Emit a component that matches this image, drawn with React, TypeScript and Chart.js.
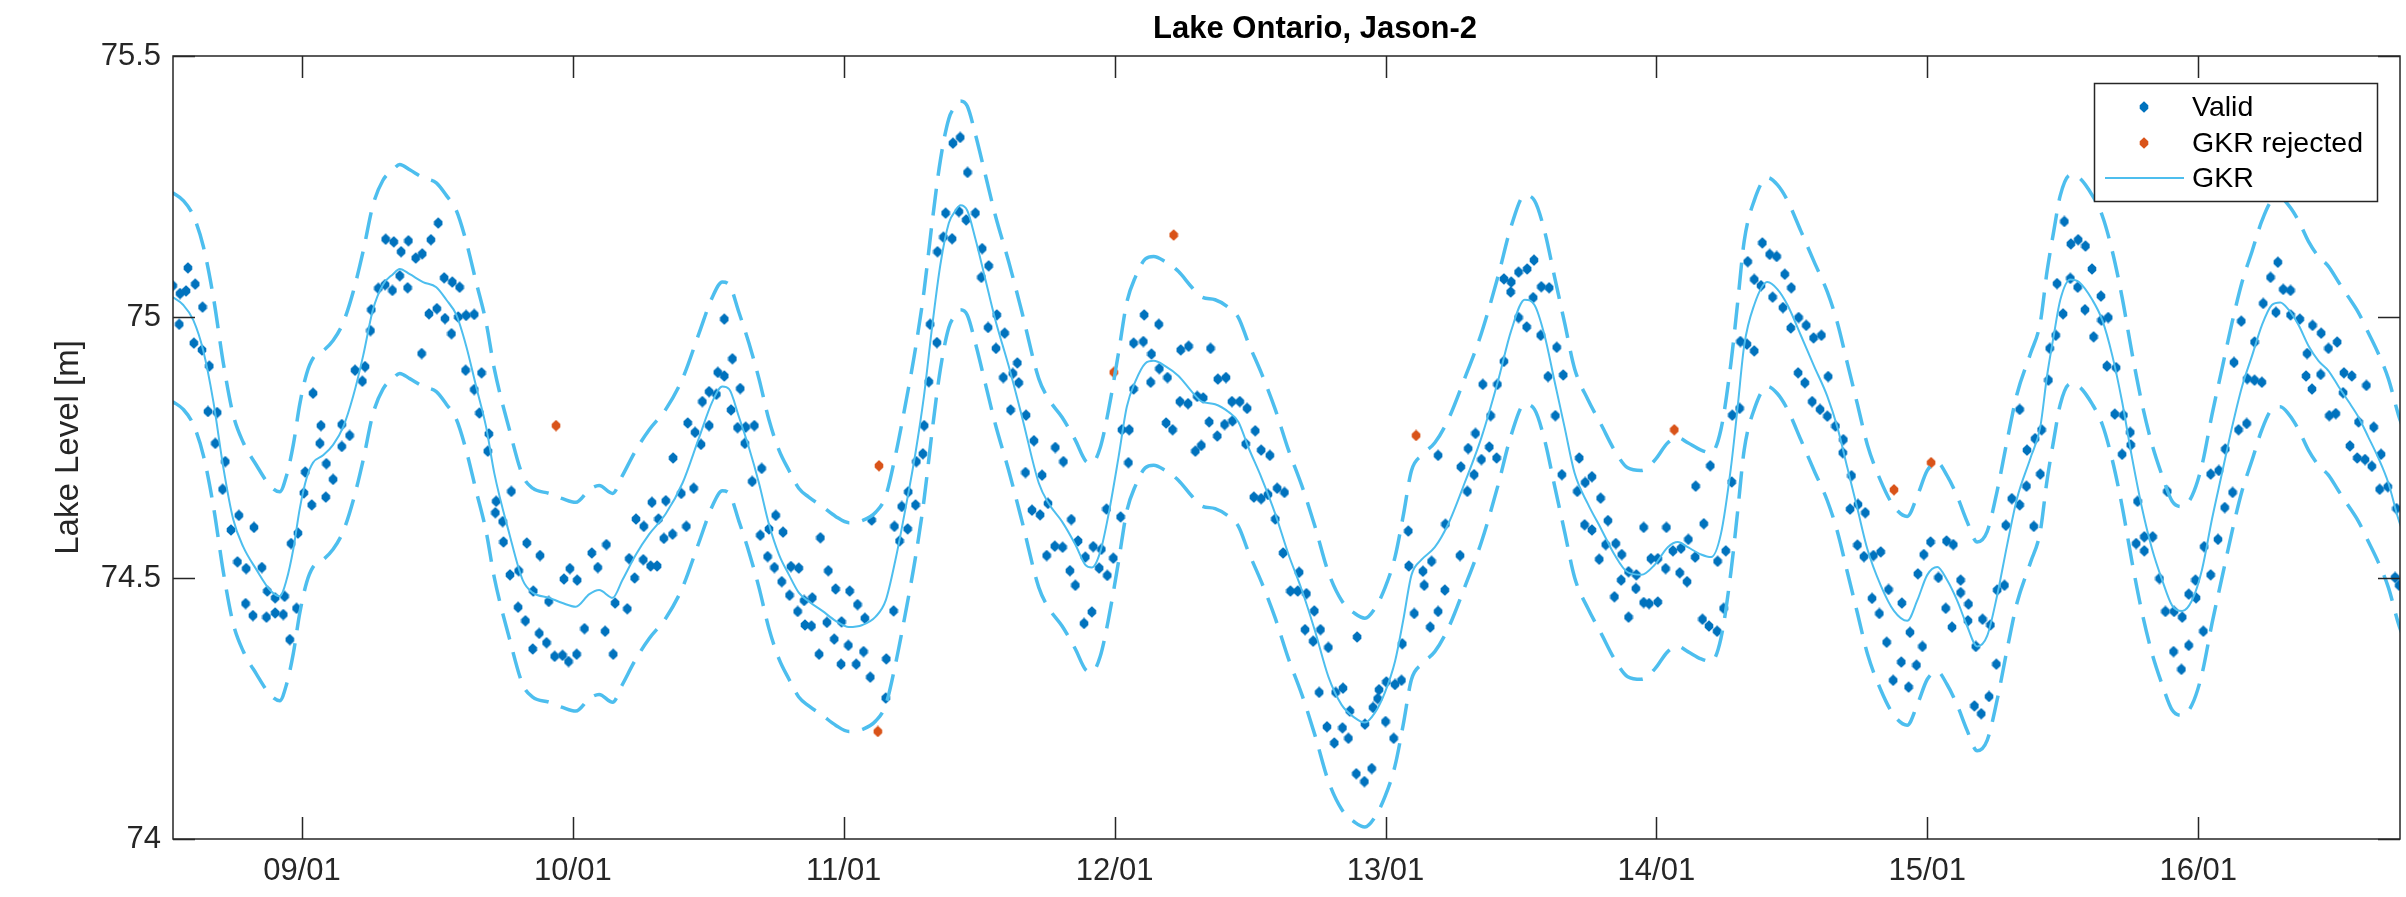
import { useEffect, useRef } from 'react';
import { Chart, registerables } from 'chart.js';

Chart.register(...registerables);

// ---------- axis data ----------
const xMinYear = 2008.524;
const xMaxYear = 2016.745;
const xTickYears = [2009, 2010, 2011, 2012, 2013, 2014, 2015, 2016];
const xTickLabels = ['09/01', '10/01', '11/01', '12/01', '13/01', '14/01', '15/01', '16/01'];
const yTickValues = [74, 74.5, 75, 75.5];
const yTickLabels = ['74', '74.5', '75', '75.5'];

// ---------- GKR fit (decimal year) ----------
const gkrYear = [
  2008.523, 2008.562, 2008.599, 2008.636, 2008.673, 2008.710, 2008.746, 2008.783, 2008.832, 2008.882,
  2008.918, 2008.943, 2008.968, 2008.992, 2009.017, 2009.041, 2009.078, 2009.115, 2009.152, 2009.189,
  2009.226, 2009.262, 2009.299, 2009.336, 2009.361, 2009.398, 2009.447, 2009.496, 2009.533, 2009.570,
  2009.606, 2009.643, 2009.680, 2009.710, 2009.766, 2009.815, 2009.852, 2009.913, 2009.962, 2010.011,
  2010.061, 2010.097, 2010.147, 2010.183, 2010.233, 2010.282, 2010.343, 2010.405, 2010.466, 2010.515,
  2010.552, 2010.577, 2010.613, 2010.650, 2010.687, 2010.724, 2010.761, 2010.798, 2010.834, 2010.871,
  2010.921, 2010.970, 2011.019, 2011.069, 2011.118, 2011.155, 2011.191, 2011.228, 2011.265, 2011.296,
  2011.327, 2011.357, 2011.388, 2011.413, 2011.431, 2011.456, 2011.486, 2011.523, 2011.560, 2011.609,
  2011.658, 2011.720, 2011.756, 2011.806, 2011.855, 2011.892, 2011.916, 2011.947, 2011.978, 2012.014,
  2012.045, 2012.077, 2012.113, 2012.144, 2012.187, 2012.236, 2012.285, 2012.322, 2012.371, 2012.421,
  2012.457, 2012.494, 2012.543, 2012.593, 2012.642, 2012.691, 2012.740, 2012.789, 2012.838, 2012.887,
  2012.924, 2012.961, 2012.998, 2013.035, 2013.065, 2013.096, 2013.133, 2013.182, 2013.231, 2013.292,
  2013.354, 2013.415, 2013.464, 2013.514, 2013.550, 2013.587, 2013.624, 2013.661, 2013.698, 2013.747,
  2013.796, 2013.845, 2013.894, 2013.944, 2013.993, 2014.042, 2014.079, 2014.116, 2014.165, 2014.202,
  2014.238, 2014.275, 2014.300, 2014.324, 2014.361, 2014.410, 2014.447, 2014.484, 2014.533, 2014.582,
  2014.631, 2014.668, 2014.705, 2014.742, 2014.779, 2014.828, 2014.877, 2014.926, 2014.963, 2015.000,
  2015.037, 2015.073, 2015.110, 2015.147, 2015.184, 2015.221, 2015.258, 2015.295, 2015.331, 2015.381,
  2015.417, 2015.442, 2015.467, 2015.491, 2015.528, 2015.560, 2015.609, 2015.646, 2015.683, 2015.719,
  2015.756, 2015.793, 2015.830, 2015.867, 2015.904, 2015.941, 2015.977, 2016.014, 2016.051, 2016.088,
  2016.125, 2016.162, 2016.199, 2016.235, 2016.272, 2016.303, 2016.334, 2016.371, 2016.407, 2016.444,
  2016.481, 2016.518, 2016.555, 2016.592, 2016.629, 2016.665, 2016.702, 2016.739, 2016.755,
];

const gkrLevel = [
  75.038, 75.023, 74.994, 74.935, 74.838, 74.711, 74.613, 74.560, 74.516, 74.477,
  74.465, 74.496, 74.555, 74.633, 74.691, 74.721, 74.735, 74.755, 74.789, 74.848,
  74.926, 75.014, 75.062, 75.082, 75.092, 75.082, 75.067, 75.057, 75.033, 75.004,
  74.945, 74.867, 74.789, 74.701, 74.584, 74.496, 74.472, 74.462, 74.452, 74.445,
  74.469, 74.477, 74.462, 74.496, 74.545, 74.584, 74.623, 74.682, 74.769, 74.838,
  74.867, 74.862, 74.809, 74.750, 74.682, 74.603, 74.545, 74.506, 74.472, 74.455,
  74.437, 74.418, 74.406, 74.410, 74.426, 74.457, 74.535, 74.633, 74.740, 74.848,
  74.984, 75.101, 75.180, 75.204, 75.214, 75.204, 75.150, 75.072, 74.994, 74.906,
  74.809, 74.682, 74.643, 74.608, 74.564, 74.525, 74.520, 74.550, 74.623, 74.730,
  74.828, 74.877, 74.911, 74.916, 74.906, 74.887, 74.857, 74.838, 74.833, 74.818,
  74.799, 74.750, 74.691, 74.623, 74.545, 74.477, 74.398, 74.311, 74.257, 74.232,
  74.223, 74.242, 74.281, 74.340, 74.418, 74.506, 74.535, 74.559, 74.603, 74.682,
  74.769, 74.877, 74.974, 75.033, 75.023, 74.965, 74.877, 74.789, 74.701, 74.642,
  74.594, 74.545, 74.511, 74.506, 74.525, 74.559, 74.569, 74.559, 74.545, 74.540,
  74.584, 74.711, 74.828, 74.945, 75.023, 75.067, 75.053, 75.023, 74.965, 74.906,
  74.848, 74.789, 74.711, 74.633, 74.555, 74.486, 74.437, 74.418, 74.457, 74.506,
  74.521, 74.496, 74.457, 74.408, 74.369, 74.389, 74.467, 74.564, 74.652, 74.730,
  74.789, 74.887, 74.965, 75.033, 75.072, 75.067, 75.033, 74.994, 74.926, 74.838,
  74.730, 74.633, 74.555, 74.496, 74.447, 74.437, 74.457, 74.516, 74.613, 74.701,
  74.789, 74.867, 74.926, 74.984, 75.023, 75.028, 75.014, 74.984, 74.945, 74.916,
  74.897, 74.867, 74.838, 74.808, 74.769, 74.730, 74.682, 74.613, 74.589,
];

const gkrUpper = [
  75.238, 75.223, 75.194, 75.135, 75.038, 74.911, 74.813, 74.760, 74.716, 74.677,
  74.665, 74.696, 74.755, 74.833, 74.891, 74.921, 74.935, 74.955, 74.989, 75.048,
  75.126, 75.214, 75.262, 75.282, 75.292, 75.282, 75.267, 75.257, 75.233, 75.204,
  75.145, 75.067, 74.989, 74.901, 74.784, 74.696, 74.672, 74.662, 74.652, 74.645,
  74.669, 74.677, 74.662, 74.696, 74.745, 74.784, 74.823, 74.882, 74.969, 75.038,
  75.067, 75.062, 75.009, 74.950, 74.882, 74.803, 74.745, 74.706, 74.672, 74.655,
  74.637, 74.618, 74.606, 74.610, 74.626, 74.657, 74.735, 74.833, 74.940, 75.048,
  75.184, 75.301, 75.380, 75.404, 75.414, 75.404, 75.350, 75.272, 75.194, 75.106,
  75.009, 74.882, 74.843, 74.808, 74.764, 74.725, 74.720, 74.750, 74.823, 74.930,
  75.028, 75.077, 75.111, 75.116, 75.106, 75.087, 75.057, 75.038, 75.033, 75.018,
  74.999, 74.950, 74.891, 74.823, 74.745, 74.677, 74.598, 74.511, 74.457, 74.432,
  74.423, 74.442, 74.481, 74.540, 74.618, 74.706, 74.735, 74.759, 74.803, 74.882,
  74.969, 75.077, 75.174, 75.233, 75.223, 75.165, 75.077, 74.989, 74.901, 74.842,
  74.794, 74.745, 74.711, 74.706, 74.725, 74.759, 74.769, 74.759, 74.745, 74.740,
  74.784, 74.911, 75.028, 75.145, 75.223, 75.267, 75.253, 75.223, 75.165, 75.106,
  75.048, 74.989, 74.911, 74.833, 74.755, 74.686, 74.637, 74.618, 74.657, 74.706,
  74.721, 74.696, 74.657, 74.608, 74.569, 74.589, 74.667, 74.764, 74.852, 74.930,
  74.989, 75.087, 75.165, 75.233, 75.272, 75.267, 75.233, 75.194, 75.126, 75.038,
  74.930, 74.833, 74.755, 74.696, 74.647, 74.637, 74.657, 74.716, 74.813, 74.901,
  74.989, 75.067, 75.126, 75.184, 75.223, 75.228, 75.214, 75.184, 75.145, 75.116,
  75.097, 75.067, 75.038, 75.008, 74.969, 74.930, 74.882, 74.813, 74.789,
];

const gkrLower = [
  74.838, 74.823, 74.794, 74.735, 74.638, 74.511, 74.413, 74.360, 74.316, 74.277,
  74.265, 74.296, 74.355, 74.433, 74.491, 74.521, 74.535, 74.555, 74.589, 74.648,
  74.726, 74.814, 74.862, 74.882, 74.892, 74.882, 74.867, 74.857, 74.833, 74.804,
  74.745, 74.667, 74.589, 74.501, 74.384, 74.296, 74.272, 74.262, 74.252, 74.245,
  74.269, 74.277, 74.262, 74.296, 74.345, 74.384, 74.423, 74.482, 74.569, 74.638,
  74.667, 74.662, 74.609, 74.550, 74.482, 74.403, 74.345, 74.306, 74.272, 74.255,
  74.237, 74.218, 74.206, 74.210, 74.226, 74.257, 74.335, 74.433, 74.540, 74.648,
  74.784, 74.901, 74.980, 75.004, 75.014, 75.004, 74.950, 74.872, 74.794, 74.706,
  74.609, 74.482, 74.443, 74.408, 74.364, 74.325, 74.320, 74.350, 74.423, 74.530,
  74.628, 74.677, 74.711, 74.716, 74.706, 74.687, 74.657, 74.638, 74.633, 74.618,
  74.599, 74.550, 74.491, 74.423, 74.345, 74.277, 74.198, 74.111, 74.057, 74.032,
  74.023, 74.042, 74.081, 74.140, 74.218, 74.306, 74.335, 74.359, 74.403, 74.482,
  74.569, 74.677, 74.774, 74.833, 74.823, 74.765, 74.677, 74.589, 74.501, 74.442,
  74.394, 74.345, 74.311, 74.306, 74.325, 74.359, 74.369, 74.359, 74.345, 74.340,
  74.384, 74.511, 74.628, 74.745, 74.823, 74.867, 74.853, 74.823, 74.765, 74.706,
  74.648, 74.589, 74.511, 74.433, 74.355, 74.286, 74.237, 74.218, 74.257, 74.306,
  74.321, 74.296, 74.257, 74.208, 74.169, 74.189, 74.267, 74.364, 74.452, 74.530,
  74.589, 74.687, 74.765, 74.833, 74.872, 74.867, 74.833, 74.794, 74.726, 74.638,
  74.530, 74.433, 74.355, 74.296, 74.247, 74.237, 74.257, 74.316, 74.413, 74.501,
  74.589, 74.667, 74.726, 74.784, 74.823, 74.828, 74.814, 74.784, 74.745, 74.716,
  74.697, 74.667, 74.638, 74.608, 74.569, 74.530, 74.482, 74.413, 74.389,
];

// ---------- altimetry points: [decimal year, level m] ----------
const validPoints: [number, number][] = [
  [2008.523, 75.060], [2008.547, 74.986], [2008.550, 75.045], [2008.572, 75.050], [2008.579, 75.094],
  [2008.606, 75.063], [2008.633, 75.019], [2008.601, 74.950], [2008.631, 74.937], [2008.658, 74.906],
  [2008.653, 74.819], [2008.687, 74.817], [2008.680, 74.758], [2008.717, 74.723], [2008.707, 74.670],
  [2008.738, 74.592], [2008.767, 74.620], [2008.762, 74.531], [2008.794, 74.518], [2008.823, 74.597],
  [2008.852, 74.520], [2008.792, 74.451], [2008.819, 74.428], [2008.872, 74.475], [2008.869, 74.425],
  [2008.901, 74.433], [2008.901, 74.462], [2008.931, 74.430], [2008.936, 74.465], [2008.955, 74.382],
  [2008.980, 74.442], [2008.960, 74.566], [2008.985, 74.586], [2009.007, 74.663], [2009.012, 74.703],
  [2009.036, 74.640], [2009.041, 74.854], [2009.070, 74.792], [2009.066, 74.758], [2009.090, 74.719],
  [2009.088, 74.655], [2009.115, 74.689], [2009.147, 74.794], [2009.147, 74.752], [2009.176, 74.773],
  [2009.196, 74.898], [2009.223, 74.877], [2009.233, 74.905], [2009.253, 74.974], [2009.256, 75.014],
  [2009.282, 75.055], [2009.309, 75.149], [2009.307, 75.062], [2009.334, 75.051], [2009.339, 75.144],
  [2009.366, 75.125], [2009.361, 75.079], [2009.393, 75.146], [2009.390, 75.056], [2009.420, 75.113],
  [2009.444, 75.121], [2009.476, 75.148], [2009.503, 75.180], [2009.442, 74.930], [2009.469, 75.006],
  [2009.498, 75.016], [2009.528, 74.997], [2009.525, 75.075], [2009.552, 74.968], [2009.555, 75.067],
  [2009.582, 75.057], [2009.577, 75.000], [2009.606, 75.003], [2009.636, 75.005], [2009.604, 74.898],
  [2009.636, 74.861], [2009.663, 74.893], [2009.655, 74.816], [2009.690, 74.776], [2009.686, 74.743],
  [2009.717, 74.647], [2009.714, 74.625], [2009.741, 74.608], [2009.744, 74.569], [2009.773, 74.666],
  [2009.768, 74.506], [2009.800, 74.514], [2009.798, 74.444], [2009.825, 74.418], [2009.830, 74.567],
  [2009.854, 74.475], [2009.879, 74.543], [2009.852, 74.364], [2009.876, 74.394], [2009.903, 74.376],
  [2009.911, 74.455], [2009.933, 74.350], [2009.962, 74.352], [2009.984, 74.340], [2010.014, 74.354],
  [2009.967, 74.498], [2009.989, 74.518], [2010.016, 74.496], [2010.043, 74.403], [2010.070, 74.548],
  [2010.092, 74.520], [2010.124, 74.564], [2010.119, 74.398], [2010.149, 74.354], [2010.156, 74.452],
  [2010.201, 74.441], [2010.208, 74.537], [2010.228, 74.500], [2010.233, 74.613], [2010.260, 74.535],
  [2010.262, 74.599], [2010.292, 74.645], [2010.316, 74.613], [2010.287, 74.523], [2010.311, 74.523],
  [2010.343, 74.648], [2010.336, 74.576], [2010.368, 74.584], [2010.370, 74.730], [2010.400, 74.662],
  [2010.419, 74.599], [2010.446, 74.672], [2010.424, 74.797], [2010.451, 74.779], [2010.473, 74.756],
  [2010.478, 74.838], [2010.503, 74.857], [2010.503, 74.792], [2010.530, 74.852], [2010.535, 74.894],
  [2010.559, 74.887], [2010.559, 74.996], [2010.589, 74.920], [2010.584, 74.822], [2010.608, 74.788],
  [2010.618, 74.863], [2010.635, 74.758], [2010.638, 74.789], [2010.670, 74.792], [2010.662, 74.685],
  [2010.697, 74.710], [2010.692, 74.582], [2010.724, 74.594], [2010.749, 74.620], [2010.776, 74.588],
  [2010.719, 74.541], [2010.744, 74.520], [2010.771, 74.493], [2010.800, 74.467], [2010.805, 74.522],
  [2010.834, 74.519], [2010.830, 74.436], [2010.857, 74.410], [2010.854, 74.457], [2010.881, 74.408],
  [2010.884, 74.462], [2010.914, 74.577], [2010.943, 74.514], [2010.970, 74.479], [2010.938, 74.415],
  [2010.909, 74.354], [2010.965, 74.383], [2010.992, 74.416], [2010.990, 74.335], [2011.022, 74.475],
  [2011.051, 74.449], [2011.017, 74.371], [2011.046, 74.335], [2011.078, 74.423], [2011.073, 74.359],
  [2011.098, 74.310], [2011.103, 74.611], [2011.157, 74.345], [2011.155, 74.270], [2011.184, 74.437],
  [2011.187, 74.599], [2011.206, 74.571], [2011.214, 74.637], [2011.236, 74.594], [2011.238, 74.665],
  [2011.265, 74.640], [2011.268, 74.723], [2011.292, 74.738], [2011.297, 74.792], [2011.314, 74.876],
  [2011.319, 74.986], [2011.344, 74.951], [2011.346, 75.125], [2011.368, 75.153], [2011.376, 75.199],
  [2011.400, 75.150], [2011.403, 75.333], [2011.430, 75.344], [2011.425, 75.202], [2011.457, 75.277],
  [2011.452, 75.186], [2011.486, 75.199], [2011.511, 75.131], [2011.508, 75.076], [2011.535, 75.098],
  [2011.533, 74.980], [2011.565, 75.004], [2011.562, 74.940], [2011.594, 74.969], [2011.589, 74.884],
  [2011.624, 74.892], [2011.641, 74.912], [2011.646, 74.874], [2011.616, 74.822], [2011.673, 74.812],
  [2011.702, 74.763], [2011.671, 74.702], [2011.732, 74.697], [2011.695, 74.630], [2011.725, 74.621],
  [2011.754, 74.643], [2011.781, 74.750], [2011.811, 74.723], [2011.749, 74.543], [2011.779, 74.561],
  [2011.808, 74.559], [2011.840, 74.612], [2011.865, 74.571], [2011.835, 74.514], [2011.855, 74.486],
  [2011.892, 74.540], [2011.921, 74.560], [2011.951, 74.555], [2011.943, 74.519], [2011.973, 74.505],
  [2011.995, 74.538], [2011.887, 74.413], [2011.916, 74.435], [2011.970, 74.632], [2012.022, 74.617],
  [2012.027, 74.784], [2012.054, 74.784], [2012.051, 74.721], [2012.070, 74.862], [2012.070, 74.950],
  [2012.106, 74.953], [2012.109, 75.004], [2012.136, 74.929], [2012.133, 74.875], [2012.163, 74.986],
  [2012.165, 74.901], [2012.195, 74.884], [2012.190, 74.797], [2012.214, 74.784], [2012.244, 74.937],
  [2012.273, 74.944], [2012.241, 74.838], [2012.271, 74.834], [2012.298, 74.743], [2012.320, 74.754],
  [2012.305, 74.848], [2012.327, 74.845], [2012.354, 74.940], [2012.349, 74.799], [2012.379, 74.772],
  [2012.381, 74.881], [2012.411, 74.884], [2012.406, 74.794], [2012.433, 74.838], [2012.435, 74.801],
  [2012.462, 74.838], [2012.489, 74.825], [2012.484, 74.757], [2012.519, 74.782], [2012.514, 74.655],
  [2012.541, 74.652], [2012.541, 74.745], [2012.573, 74.735], [2012.566, 74.660], [2012.600, 74.672],
  [2012.627, 74.664], [2012.593, 74.613], [2012.622, 74.548], [2012.681, 74.511], [2012.649, 74.475],
  [2012.676, 74.475], [2012.708, 74.470], [2012.737, 74.437], [2012.703, 74.401], [2012.733, 74.379],
  [2012.760, 74.401], [2012.789, 74.367], [2012.755, 74.281], [2012.784, 74.215], [2012.811, 74.184],
  [2012.816, 74.281], [2012.843, 74.289], [2012.841, 74.213], [2012.863, 74.193], [2012.868, 74.245],
  [2012.895, 74.387], [2012.892, 74.125], [2012.922, 74.110], [2012.949, 74.135], [2012.924, 74.220],
  [2012.954, 74.252], [2012.976, 74.286], [2012.971, 74.269], [2013.003, 74.301], [2013.000, 74.225],
  [2013.030, 74.193], [2013.035, 74.296], [2013.059, 74.304], [2013.062, 74.374], [2013.084, 74.590],
  [2013.086, 74.523], [2013.106, 74.432], [2013.138, 74.513], [2013.143, 74.486], [2013.170, 74.532],
  [2013.165, 74.406], [2013.194, 74.436], [2013.194, 74.735], [2013.221, 74.603], [2013.219, 74.477],
  [2013.275, 74.543], [2013.278, 74.713], [2013.302, 74.666], [2013.305, 74.748], [2013.327, 74.698],
  [2013.332, 74.777], [2013.354, 74.727], [2013.359, 74.871], [2013.383, 74.751], [2013.388, 74.811],
  [2013.410, 74.730], [2013.413, 74.871], [2013.437, 74.915], [2013.437, 75.073], [2013.464, 75.067],
  [2013.462, 75.048], [2013.491, 75.086], [2013.523, 75.092], [2013.548, 75.109], [2013.545, 75.037],
  [2013.491, 74.999], [2013.521, 74.981], [2013.575, 75.058], [2013.604, 75.056], [2013.573, 74.965],
  [2013.600, 74.886], [2013.632, 74.942], [2013.656, 74.889], [2013.627, 74.811], [2013.651, 74.698],
  [2013.715, 74.730], [2013.708, 74.666], [2013.737, 74.683], [2013.762, 74.694], [2013.794, 74.653],
  [2013.735, 74.602], [2013.762, 74.592], [2013.821, 74.610], [2013.813, 74.564], [2013.850, 74.566],
  [2013.789, 74.536], [2013.872, 74.545], [2013.897, 74.512], [2013.870, 74.496], [2013.845, 74.464],
  [2013.926, 74.506], [2013.924, 74.480], [2013.897, 74.425], [2013.953, 74.453], [2013.973, 74.451],
  [2014.005, 74.454], [2013.953, 74.597], [2013.980, 74.537], [2014.005, 74.537], [2014.037, 74.597],
  [2014.034, 74.518], [2014.061, 74.552], [2014.091, 74.557], [2014.086, 74.510], [2014.113, 74.493],
  [2014.118, 74.574], [2014.143, 74.540], [2014.145, 74.676], [2014.175, 74.604], [2014.199, 74.715],
  [2014.170, 74.421], [2014.194, 74.408], [2014.224, 74.398], [2014.226, 74.532], [2014.256, 74.552],
  [2014.248, 74.442], [2014.278, 74.684], [2014.280, 74.812], [2014.307, 74.825], [2014.310, 74.953],
  [2014.334, 74.948], [2014.361, 74.935], [2014.337, 75.106], [2014.361, 75.072], [2014.391, 75.142],
  [2014.418, 75.120], [2014.386, 75.060], [2014.429, 75.038], [2014.444, 75.116], [2014.474, 75.082],
  [2014.498, 75.056], [2014.467, 75.018], [2014.496, 74.979], [2014.525, 74.999], [2014.553, 74.984],
  [2014.580, 74.960], [2014.609, 74.965], [2014.523, 74.893], [2014.548, 74.874], [2014.575, 74.838],
  [2014.604, 74.823], [2014.631, 74.810], [2014.634, 74.886], [2014.661, 74.791], [2014.690, 74.765],
  [2014.688, 74.740], [2014.720, 74.696], [2014.715, 74.632], [2014.744, 74.641], [2014.771, 74.625],
  [2014.742, 74.563], [2014.766, 74.541], [2014.801, 74.543], [2014.828, 74.550], [2014.796, 74.461],
  [2014.823, 74.432], [2014.857, 74.478], [2014.906, 74.452], [2014.850, 74.377], [2014.904, 74.339],
  [2014.874, 74.304], [2014.931, 74.291], [2014.936, 74.396], [2014.960, 74.333], [2014.982, 74.369],
  [2014.965, 74.508], [2014.987, 74.545], [2015.012, 74.569], [2015.071, 74.571], [2015.096, 74.564],
  [2015.041, 74.501], [2015.068, 74.442], [2015.091, 74.406], [2015.123, 74.496], [2015.123, 74.472],
  [2015.152, 74.450], [2015.150, 74.418], [2015.179, 74.369], [2015.204, 74.421], [2015.233, 74.410],
  [2015.255, 74.335], [2015.228, 74.273], [2015.174, 74.255], [2015.199, 74.240], [2015.258, 74.477],
  [2015.285, 74.486], [2015.290, 74.601], [2015.312, 74.652], [2015.341, 74.640], [2015.366, 74.676],
  [2015.393, 74.599], [2015.368, 74.745], [2015.398, 74.767], [2015.422, 74.784], [2015.417, 74.699],
  [2015.447, 74.879], [2015.452, 74.940], [2015.474, 74.965], [2015.341, 74.823], [2015.479, 75.064],
  [2015.501, 75.006], [2015.506, 75.183], [2015.530, 75.140], [2015.557, 75.148], [2015.584, 75.136],
  [2015.528, 75.074], [2015.555, 75.057], [2015.582, 75.014], [2015.608, 75.092], [2015.614, 74.962],
  [2015.641, 75.040], [2015.643, 74.994], [2015.668, 74.999], [2015.663, 74.906], [2015.697, 74.903],
  [2015.692, 74.814], [2015.724, 74.812], [2015.749, 74.779], [2015.751, 74.755], [2015.719, 74.737],
  [2015.776, 74.647], [2015.771, 74.566], [2015.801, 74.552], [2015.801, 74.579], [2015.832, 74.579],
  [2015.857, 74.499], [2015.879, 74.436], [2015.911, 74.436], [2015.941, 74.425], [2015.886, 74.666],
  [2015.909, 74.359], [2015.938, 74.325], [2015.965, 74.371], [2015.965, 74.469], [2015.992, 74.462],
  [2015.990, 74.496], [2016.019, 74.398], [2016.022, 74.560], [2016.046, 74.506], [2016.073, 74.574],
  [2016.046, 74.699], [2016.076, 74.706], [2016.100, 74.747], [2016.098, 74.635], [2016.127, 74.664],
  [2016.132, 74.913], [2016.149, 74.784], [2016.179, 74.796], [2016.159, 74.992], [2016.181, 74.882],
  [2016.208, 74.879], [2016.235, 74.875], [2016.208, 74.952], [2016.240, 75.026], [2016.267, 75.076],
  [2016.294, 75.105], [2016.287, 75.009], [2016.314, 75.053], [2016.341, 75.051], [2016.341, 75.004],
  [2016.375, 74.996], [2016.402, 74.930], [2016.422, 74.984], [2016.398, 74.887], [2016.420, 74.862],
  [2016.454, 74.969], [2016.452, 74.890], [2016.481, 74.940], [2016.484, 74.811], [2016.513, 74.952],
  [2016.508, 74.815], [2016.538, 74.893], [2016.567, 74.887], [2016.535, 74.855], [2016.592, 74.799],
  [2016.621, 74.869], [2016.648, 74.789], [2016.560, 74.753], [2016.587, 74.730], [2016.616, 74.727],
  [2016.641, 74.714], [2016.675, 74.737], [2016.670, 74.670], [2016.700, 74.675], [2016.732, 74.633],
  [2016.727, 74.501], [2016.742, 74.486],
];

const rejectedPoints: [number, number][] = [
  [2009.938, 74.792], [2011.130, 74.715], [2011.126, 74.206], [2011.997, 74.894], [2012.218, 75.157],
  [2013.113, 74.773], [2014.066, 74.784], [2014.877, 74.669], [2015.014, 74.721],
];

const legendLabels = ['Valid', 'GKR rejected', 'GKR'];

// ---------- styles ----------
const VALID_COLOR = '#0072BD';
const REJECT_COLOR = '#D95319';
const GKR_COLOR = '#4DBEEE';
const AXIS_COLOR = '#262626';
const FONT = "'Liberation Sans', Arial, Helvetica, sans-serif";

function makeMarker(color: string): HTMLCanvasElement {
  const c = document.createElement('canvas');
  c.width = 10;
  c.height = 12;
  const g = c.getContext('2d')!;
  g.fillStyle = color;
  g.beginPath();
  g.moveTo(5, 0.2);
  g.lineTo(9.3, 4.3);
  g.lineTo(9.3, 7.7);
  g.lineTo(5, 11.8);
  g.lineTo(0.7, 7.7);
  g.lineTo(0.7, 4.3);
  g.closePath();
  g.fill();
  return c;
}

export default function App() {
  const canvasRef = useRef<HTMLCanvasElement | null>(null);

  useEffect(() => {
    const canvas = canvasRef.current;
    if (!canvas) return;
    const validMarker = makeMarker(VALID_COLOR);
    const rejectMarker = makeMarker(REJECT_COLOR);

    const line = (vals: number[]) => gkrYear.map((x, i) => ({ x, y: vals[i] }));

    const decor = {
      id: 'matlabDecor',
      afterDraw(chart: any) {
        const { ctx, chartArea: a, scales } = chart;
        const xs = scales.x;
        const ys = scales.y;
        const TICK = 22;
        ctx.save();
        // axes box
        ctx.strokeStyle = AXIS_COLOR;
        ctx.lineWidth = 1.5;
        ctx.strokeRect(a.left, a.top, a.right - a.left, a.bottom - a.top);
        ctx.beginPath();
        xTickYears.forEach((yr) => {
          const px = Math.round(xs.getPixelForValue(yr)) + 0.5;
          ctx.moveTo(px, a.bottom);
          ctx.lineTo(px, a.bottom - TICK);
          ctx.moveTo(px, a.top);
          ctx.lineTo(px, a.top + TICK);
        });
        yTickValues.forEach((v) => {
          const py = Math.round(ys.getPixelForValue(v)) + 0.5;
          ctx.moveTo(a.left, py);
          ctx.lineTo(a.left + TICK, py);
          ctx.moveTo(a.right, py);
          ctx.lineTo(a.right - TICK, py);
        });
        ctx.stroke();

        // title
        ctx.fillStyle = '#000000';
        ctx.font = `bold 31px ${FONT}`;
        ctx.textAlign = 'center';
        ctx.textBaseline = 'middle';
        ctx.fillText('Lake Ontario, Jason-2', 1315, 29);

        // y label
        ctx.save();
        ctx.translate(69, (a.top + a.bottom) / 2);
        ctx.rotate(-Math.PI / 2);
        ctx.fillStyle = AXIS_COLOR;
        ctx.font = `33px ${FONT}`;
        ctx.fillText('Lake Level [m]', 0, 0);
        ctx.restore();

        // legend
        const lw = 283;
        const lh = 118;
        const lx = a.right - 23 - lw;
        const ly = a.top + 27;
        ctx.fillStyle = '#ffffff';
        ctx.fillRect(lx, ly, lw, lh);
        ctx.strokeStyle = AXIS_COLOR;
        ctx.lineWidth = 1.5;
        ctx.strokeRect(lx + 0.5, ly + 0.5, lw, lh);
        const rowY = [ly + 24, ly + 60, ly + 95];
        const mx = lx + 50;
        ctx.drawImage(validMarker, mx - 5, rowY[0] - 6);
        ctx.drawImage(rejectMarker, mx - 5, rowY[1] - 6);
        ctx.strokeStyle = GKR_COLOR;
        ctx.lineWidth = 2;
        ctx.beginPath();
        ctx.moveTo(lx + 11, rowY[2]);
        ctx.lineTo(lx + 90, rowY[2]);
        ctx.stroke();
        ctx.fillStyle = '#000000';
        ctx.font = `28.5px ${FONT}`;
        ctx.textAlign = 'left';
        ctx.textBaseline = 'middle';
        legendLabels.forEach((t, i) => ctx.fillText(t, lx + 98, rowY[i] + 1));
        ctx.restore();
      },
    };

    const chart = new Chart(canvas, {
      type: 'scatter',
      data: {
        datasets: [
          {
            label: 'GKR',
            data: line(gkrLevel),
            showLine: true,
            borderColor: GKR_COLOR,
            borderWidth: 2,
            pointRadius: 0,
            cubicInterpolationMode: 'monotone',
            clip: 0,
          },
          {
            label: 'GKR upper',
            data: line(gkrUpper),
            showLine: true,
            borderColor: GKR_COLOR,
            borderWidth: 3.5,
            borderDash: [27, 13],
            pointRadius: 0,
            cubicInterpolationMode: 'monotone',
            clip: 0,
          },
          {
            label: 'GKR lower',
            data: line(gkrLower),
            showLine: true,
            borderColor: GKR_COLOR,
            borderWidth: 3.5,
            borderDash: [27, 13],
            pointRadius: 0,
            cubicInterpolationMode: 'monotone',
            clip: 0,
          },
          {
            label: 'GKR rejected',
            data: rejectedPoints.map(([x, y]) => ({ x, y })),
            pointStyle: rejectMarker,
            pointRadius: 5,
            clip: 0,
          },
          {
            label: 'Valid',
            data: validPoints.map(([x, y]) => ({ x, y })),
            pointStyle: validMarker,
            pointRadius: 5,
            clip: 0,
          },
        ] as any,
      },
      options: {
        animation: false,
        responsive: false,
        events: [],
        layout: { padding: { top: 56, right: 3, bottom: 0, left: 0 } },
        plugins: {
          legend: { display: false },
          tooltip: { enabled: false },
          title: { display: false },
        },
        scales: {
          x: {
            type: 'linear',
            min: xMinYear,
            max: xMaxYear,
            grid: { display: false, drawTicks: false },
            border: { display: false },
            afterBuildTicks: (scale: any) => {
              scale.ticks = xTickYears.map((v) => ({ value: v }));
            },
            afterFit: (scale: any) => {
              scale.height = 58;
            },
            ticks: {
              autoSkip: false,
              maxRotation: 0,
              padding: 14,
              color: AXIS_COLOR,
              font: { family: FONT, size: 31 },
              callback: (v: any) => {
                const i = xTickYears.indexOf(Number(v));
                return i >= 0 ? xTickLabels[i] : '';
              },
            },
          },
          y: {
            type: 'linear',
            min: 74,
            max: 75.5,
            grid: { display: false, drawTicks: false },
            border: { display: false },
            afterBuildTicks: (scale: any) => {
              scale.ticks = yTickValues.map((v) => ({ value: v }));
            },
            afterFit: (scale: any) => {
              scale.width = 173;
            },
            ticks: {
              padding: 12,
              color: AXIS_COLOR,
              font: { family: FONT, size: 31 },
              callback: (v: any) => {
                const i = yTickValues.indexOf(Number(v));
                return i >= 0 ? yTickLabels[i] : '';
              },
            },
          },
        },
      } as any,
      plugins: [decor],
    });

    return () => chart.destroy();
  }, []);

  return (
    <div style={{ position: 'fixed', left: 0, top: 0, width: 2406, height: 897, background: '#ffffff' }}>
      <canvas ref={canvasRef} width={2406} height={897} style={{ display: 'block', width: 2406, height: 897 }} />
    </div>
  );
}
